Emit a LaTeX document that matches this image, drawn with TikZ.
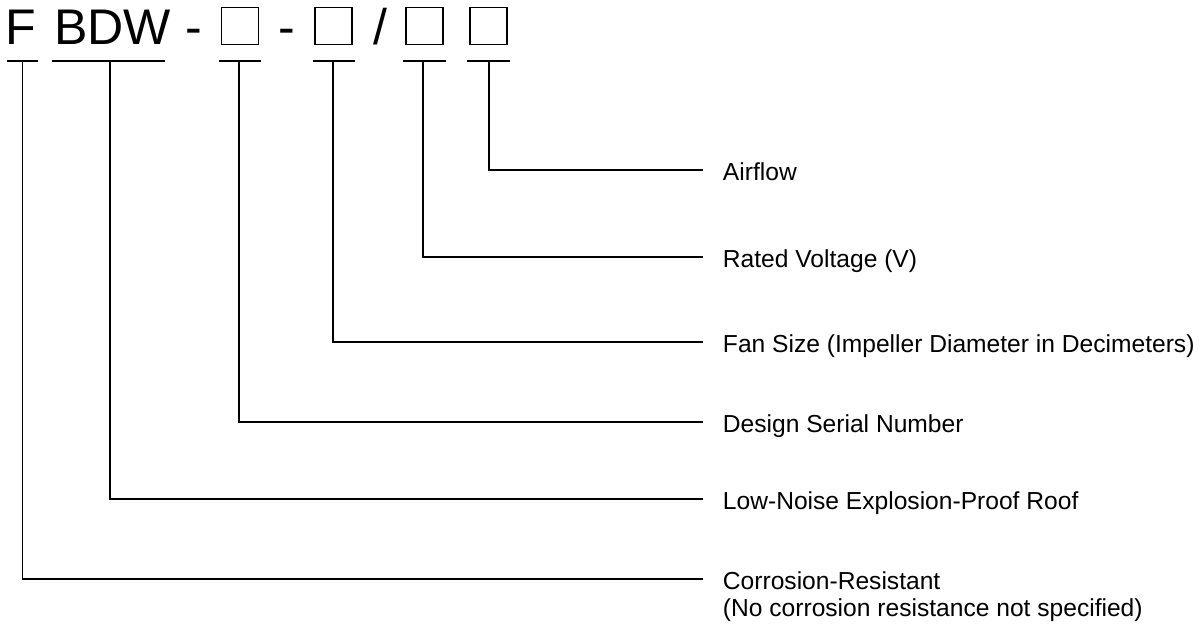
\documentclass[tikz,border=0pt]{standalone}
\usepackage{fontspec}
\setmainfont{Liberation Sans}
\usetikzlibrary{calc}
\tikzset{
  every picture/.style={x=0.02cm, y=-0.02cm, line width=1.1pt},
  code/.style={font=\fontsize{28.5}{34}\selectfont, inner sep=0pt, anchor=base},
  slot/.style={draw, line width=1.1pt, minimum size=0.74cm, inner sep=0pt},
  desc/.style={font=\fontsize{14}{17}\selectfont, inner sep=0pt, anchor=base west},
  lead/.style={line width=1.1pt},
}

\begin{document}
\begin{tikzpicture}
  \useasboundingbox (0,0) rectangle (1200,636);
  % model code
  \node[code] (cF) at (21,44) {F};
  \node[code] (cBDW) at (112.5,44) {BDW};
  \node[code] (dash1) at (194,44) {-};
  \node[slot] (s1) at (240,26) {};
  \node[code] (dash2) at (287,44) {-};
  \node[slot] (s2) at (333.5,26) {};
  \node[code] (slash) at (380,44) {/};
  \node[slot] (s3) at (424.5,26) {};
  \node[slot] (s4) at (488.5,26) {};
  % underlines
  \draw (7,61) -- (38,61);     \coordinate (uF) at (22.5,61);
  \draw (52,61) -- (165,61);   \coordinate (uBDW) at (110,61);
  \draw (219,61) -- (261,61);  \coordinate (u1) at (239,61);
  \draw (313,61) -- (355,61);  \coordinate (u2) at (333,61);
  \draw (403,61) -- (446,61);  \coordinate (u3) at (423,61);
  \draw (467,61) -- (510,61);  \coordinate (u4) at (489,61);
  % descriptions
  \node[desc] (dAir) at (722,180) {Airflow};
  \node[desc] (dVolt) at (722,267) {Rated Voltage (V)};
  \node[desc] (dSize) at (722,352) {Fan Size (Impeller Diameter in Decimeters)};
  \node[desc] (dSer) at (722,432) {Design Serial Number};
  \node[desc] (dRoof) at (722,509) {Low-Noise Explosion-Proof Roof};
  \node[desc] (dCorr) at (722,589) {Corrosion-Resistant};
  \node[desc] (dCorr2) at (722,616) {(No corrosion resistance not specified)};
  % leaders
  \draw[lead] (u4) |- ([shift={(-19,-10)}]dAir.base west);
  \draw[lead] (u3) |- ([shift={(-19,-10)}]dVolt.base west);
  \draw[lead] (u2) |- ([shift={(-19,-10)}]dSize.base west);
  \draw[lead] (u1) |- ([shift={(-19,-10)}]dSer.base west);
  \draw[lead] (uBDW) |- ([shift={(-19,-10)}]dRoof.base west);
  \draw[lead] (uF) |- ([shift={(-19,-10)}]dCorr.base west);
\end{tikzpicture}
\end{document}
